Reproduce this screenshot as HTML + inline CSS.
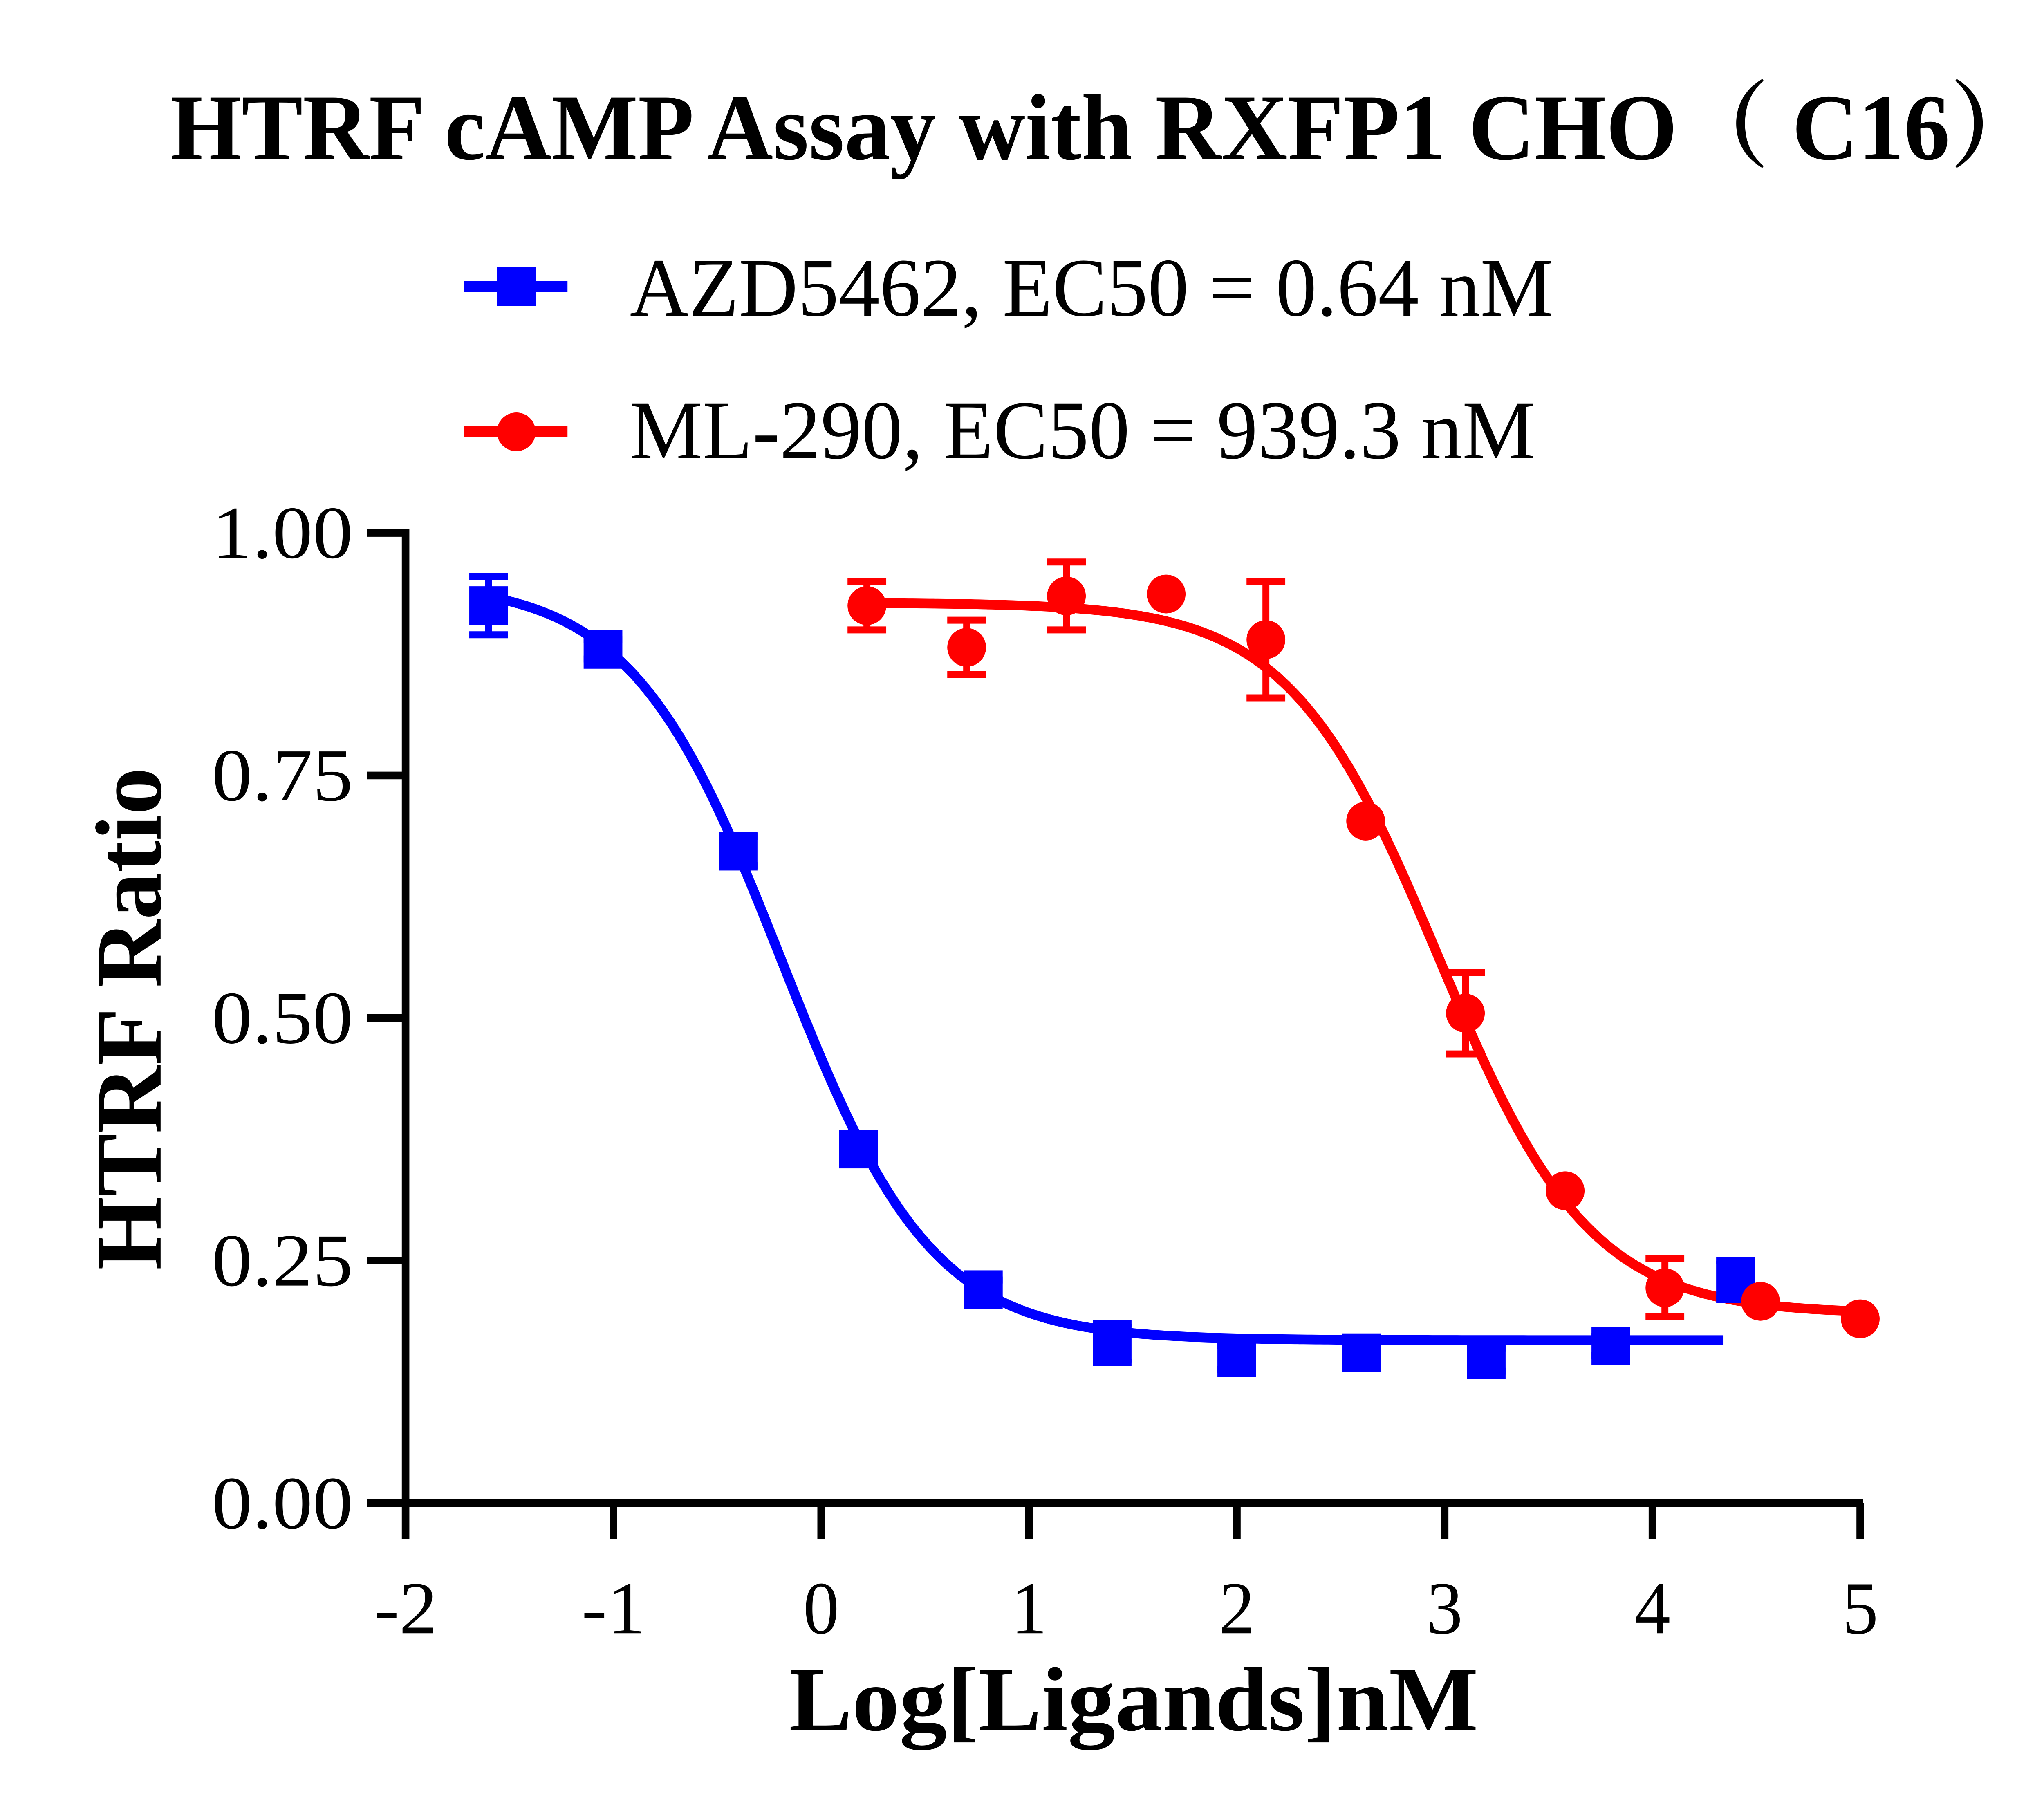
<!DOCTYPE html>
<html><head><style>html,body{margin:0;padding:0;background:#fff;overflow:hidden;width:5282px;height:4430px}svg{display:block}</style></head>
<body>
<svg id="s" width="5282" height="4430" viewBox="0 0 1560 1308.4" xmlns="http://www.w3.org/2000/svg" font-family="'Liberation Serif','Noto Serif CJK SC',serif">
<rect width="1560" height="1308.4" fill="#fff"/>
<text x="123" y="115" font-size="68" font-weight="bold" textLength="1352" lengthAdjust="spacingAndGlyphs">HTRF cAMP Assay with RXFP1 CHO（ C16）</text>
<line x1="335" y1="207" x2="410" y2="207" stroke="#0000ff" stroke-width="8"/>
<rect x="359" y="193" width="28" height="28" fill="#0000ff"/>
<text x="455" y="228" font-size="60" textLength="667" lengthAdjust="spacingAndGlyphs">AZD5462, EC50 = 0.64 nM</text>
<line x1="335" y1="312" x2="410" y2="312" stroke="#ff0000" stroke-width="8"/>
<circle cx="373" cy="312" r="14" fill="#ff0000"/>
<text x="455" y="331" font-size="60" textLength="654" lengthAdjust="spacingAndGlyphs">ML-290, EC50 = 939.3 nM</text>
<g stroke="#000" stroke-width="5.5" fill="none">
<line x1="293" y1="382" x2="293" y2="1088"/>
<line x1="291" y1="1086" x2="1346" y2="1086"/>
<g id="yt"></g><g id="xt"></g>
</g>
<g id="lab" font-size="54"></g>
<text transform="translate(116,736) rotate(-90)" font-size="68" font-weight="bold" text-anchor="middle" textLength="363" lengthAdjust="spacingAndGlyphs">HTRF Ratio</text>
<text x="570" y="1250" font-size="66" font-weight="bold" textLength="498" lengthAdjust="spacingAndGlyphs">Log[Ligands]nM</text>
<g id="d"></g>
</svg>
<script>
var NS="http://www.w3.org/2000/svg";
function X(x){return 293+(x+2)*150.14}function Y(y){return 1086-y*701}
function el(t,a,p){var e=document.createElementNS(NS,t);for(var k in a)e.setAttribute(k,a[k]);if(p)p.appendChild(e);return e}
var yt=document.getElementById('yt'),xt=document.getElementById('xt'),lab=document.getElementById('lab'),d=document.getElementById('d');
[0,0.25,0.5,0.75,1].forEach(function(v){el('line',{x1:265,x2:293,y1:Y(v),y2:Y(v)},yt);var t=el('text',{x:153,y:Y(v)+18,textLength:102,lengthAdjust:'spacingAndGlyphs'},lab);t.textContent=v.toFixed(2)});
for(var i=-2;i<=5;i++){el('line',{x1:X(i),x2:X(i),y1:1086,y2:1112},xt);var a={x:X(i)-(i<0?8:0),y:1180,'text-anchor':'middle'};if(i<0){a.textLength=46;a.lengthAdjust='spacingAndGlyphs';a.x=X(i)-23;delete a['text-anchor'];}else{a.textLength=26;a.lengthAdjust='spacingAndGlyphs';a.x=X(i)-13;delete a['text-anchor'];}var t=el('text',a,lab);t.textContent=i}
function curve(a,b,top,bot,ec,h,col){var s='';for(var x=a;x<=b+1e-9;x+=0.02){var y=bot+(top-bot)/(1+Math.pow(10,h*(x-ec)));s+=(s?'L':'M')+X(x).toFixed(2)+','+Y(y).toFixed(2)}el('path',{d:s,stroke:col,'stroke-width':7,fill:'none'},d)}
curve(-1.6,4.35,0.95,0.168,-0.19,1.2,'#0000ff');
curve(0.22,5.0,0.928,0.195,2.973,1.2,'#ff0000');
var blue=[[-1.6,0.925,0.03],[-1.05,0.88,0.01],[-0.4,0.672,0.015],[0.18,0.365,0.01],[0.78,0.22,0.01],[1.4,0.165,0.02],[2.0,0.15,0.012],[2.6,0.155,0.01],[3.2,0.148,0.012],[3.8,0.162,0.01],[4.4,0.23,0.02]];
var red=[[0.22,0.925,0.025],[0.7,0.882,0.028],[1.18,0.935,0.035],[1.66,0.937,0],[2.14,0.89,0.06],[2.62,0.703,0],[3.1,0.505,0.042],[3.58,0.322,0],[4.06,0.222,0.03],[4.52,0.208,0],[5.0,0.19,0]];
function pts(arr,col,sq){arr.forEach(function(p){var cx=X(p[0]),cy=Y(p[1]);if(p[2]>0){var y1=Y(p[1]+p[2]),y2=Y(p[1]-p[2]);el('path',{d:'M'+cx+','+y1+'V'+y2+'M'+(cx-14)+','+y1+'H'+(cx+14)+'M'+(cx-14)+','+y2+'H'+(cx+14),stroke:col,'stroke-width':5,fill:'none'},d)}
if(sq)el('rect',{x:cx-14,y:cy-14,width:28,height:28,fill:col},d);else el('circle',{cx:cx,cy:cy,r:14,fill:col},d)})}
pts(blue,'#0000ff',true);pts(red,'#ff0000',false);
</script>
</body></html>
